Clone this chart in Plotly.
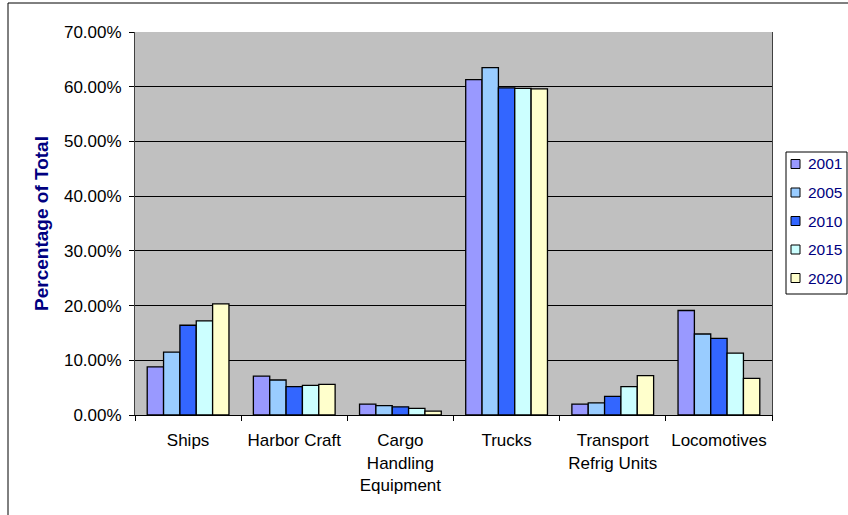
import plotly.graph_objects as go

categories = ["Ships", "Harbor Craft", "Cargo<br>Handling<br>Equipment", "Trucks",
              "Transport<br>Refrig Units", "Locomotives"]
years = ["2001", "2005", "2010", "2015", "2020"]
values_2001 = [8.8, 7.1, 2.0, 61.3, 2.0, 19.1]
values_2005 = [11.5, 6.4, 1.7, 63.5, 2.2, 14.8]
values_2010 = [16.4, 5.2, 1.5, 59.8, 3.4, 14.0]
values_2015 = [17.2, 5.4, 1.2, 59.7, 5.2, 11.3]
values_2020 = [20.3, 5.6, 0.7, 59.6, 7.2, 6.7]
series = [values_2001, values_2005, values_2010, values_2015, values_2020]
colors = ["#9999FF", "#99CCFF", "#3366FF", "#CCFFFF", "#FFFFCC"]
y_ticks = [0, 10, 20, 30, 40, 50, 60, 70]
y_tick_labels = [f"{v:.2f}%" for v in y_ticks]

W, H = 848, 515
L, R, T, B = 135, 76, 32, 100
PW, PH = W - L - R, H - T - B


def px(x):
    return (x - L) / PW


def py(y):
    return (H - B - y) / PH


fig = go.Figure()
for yr, vals, col in zip(years, series, colors):
    fig.add_trace(go.Bar(
        x=categories, y=vals, name=yr,
        marker=dict(color=col, line=dict(color="#000000", width=1.3)),
    ))

shapes = [
    dict(type="line", xref="paper", yref="paper", x0=px(8), x1=px(8), y0=py(H + 5), y1=py(3),
         line=dict(color="#000000", width=1)),
    dict(type="line", xref="paper", yref="paper", x0=px(8), x1=px(W + 5), y0=py(3), y1=py(3),
         line=dict(color="#000000", width=1)),
    dict(type="rect", xref="paper", yref="paper", x0=px(786), x1=px(847), y0=py(294), y1=py(152),
         line=dict(color="#000000", width=1), fillcolor="white"),
]
annotations = []
legend_y = [164, 192.5, 221, 249.5, 278]
for yr, col, ly in zip(years, colors, legend_y):
    shapes.append(dict(type="rect", xref="paper", yref="paper",
                       x0=px(791), x1=px(800), y0=py(ly + 4.5), y1=py(ly - 4.5),
                       line=dict(color="#000000", width=1), fillcolor=col))
    annotations.append(dict(text=yr, xref="paper", yref="paper", x=px(806), y=py(ly),
                            xanchor="left", yanchor="middle", showarrow=False,
                            font=dict(size=15.5, color="#000080")))

fig.update_layout(
    width=W, height=H,
    margin=dict(l=L, r=R, t=T, b=B, autoexpand=False),
    paper_bgcolor="white",
    plot_bgcolor="#C0C0C0",
    barmode="group", bargap=0.23, bargroupgap=0,
    font=dict(family="Liberation Sans, Arial", size=17, color="#000000"),
    showlegend=False,
    xaxis=dict(
        type="category", tickson="boundaries", ticks="outside", ticklen=5,
        tickcolor="#000000", showline=True, linecolor="#000000", linewidth=1,
        showgrid=False, tickfont=dict(size=17, color="#000000"),
        ticklabelstandoff=10,
    ),
    yaxis=dict(
        range=[0, 70], tickvals=y_ticks, ticktext=y_tick_labels,
        ticks="outside", ticklen=5, tickcolor="#000000",
        showline=True, linecolor="#404040", linewidth=1, mirror=True,
        showgrid=True, gridcolor="#000000", gridwidth=1,
        zeroline=False,
        tickfont=dict(size=17, color="#000000"),
        ticklabelstandoff=4,
        title=dict(text="<b>Percentage of Total</b>", font=dict(size=19, color="#000080"), standoff=10),
    ),
    shapes=shapes,
    annotations=annotations,
)

fig.write_html("out.html", config={"displayModeBar": False},
               post_script="document.body.style.margin='0';")
